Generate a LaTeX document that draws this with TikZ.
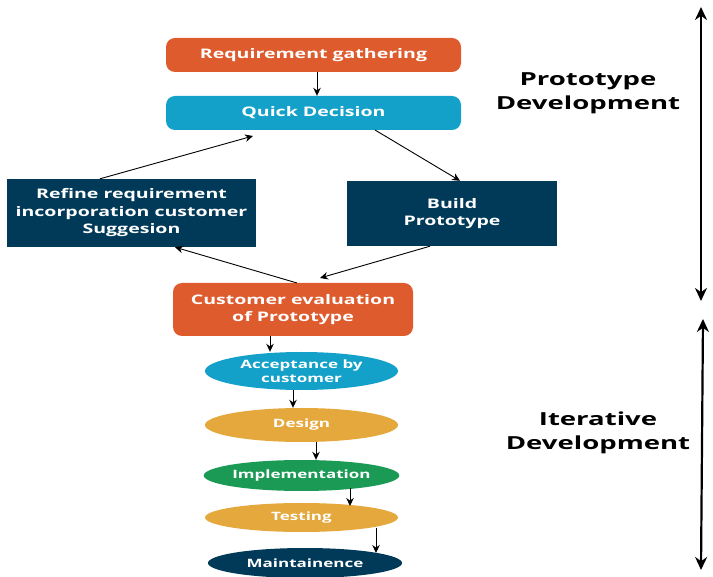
\documentclass[tikz,border=0pt]{standalone}
\usepackage{fontspec}
\setmainfont{Open Sans}
\newfontfamily\wfont[FakeStretch=1.48]{Open Sans}
\newfontfamily\sfont[FakeStretch=1.53]{Open Sans}
\usetikzlibrary{shapes.geometric,arrows.meta}
\definecolor{cOrange}{HTML}{DE5B2E}
\definecolor{cBlue}{HTML}{13A0C9}
\definecolor{cNavy}{HTML}{003A58}
\definecolor{cGold}{HTML}{E5A83C}
\definecolor{cGreen}{HTML}{1B9A56}
\tikzset{
  lbl/.style={text=white,font=\wfont\bfseries\fontsize{13.2}{17.5}\selectfont,align=center,inner sep=0pt},
  rbox/.style={lbl,rounded corners=9pt,minimum width=295pt,minimum height=34pt},
  sbox/.style={lbl,minimum height=66pt},
  ell/.style={lbl,ellipse,minimum width=193pt,font=\wfont\bfseries\fontsize{11.5}{14.5}\selectfont},
  con/.style={-{Stealth[length=8pt,width=7.5pt]},line width=0.9pt},
  big/.style={{Stealth[length=13pt,width=12pt]}-{Stealth[length=13pt,width=12pt]},line width=2.2pt},
  side/.style={font=\sfont\bfseries\fontsize{18}{23.5}\selectfont,align=center}
}
\begin{document}
\begin{tikzpicture}[x=1pt,y=-1pt]
\useasboundingbox (0,0) rectangle (713,577);
\node[rbox,fill=cOrange] (req) at (313.5,55) {Requirement gathering};
\node[rbox,fill=cBlue] (qd) at (313.5,113) {Quick Decision};
\node[sbox,fill=cNavy,minimum width=249pt,minimum height=68pt] (ref) at (131.5,213) {Refine requirement\\incorporation customer\\Suggesion};
\node[sbox,fill=cNavy,minimum width=210pt,minimum height=65pt] (bld) at (452,213.5) {Build\\Prototype};
\node[rbox,fill=cOrange,minimum width=240pt,minimum height=53pt] (ce) at (293,309.5) {Customer evaluation\\of Prototype};
\node[ell,fill=cBlue,minimum height=38pt] (acc) at (301.5,371) {Acceptance by\\customer};
\node[ell,fill=cGold,minimum height=34pt] (des) at (301.5,425) {Design};
\node[ell,fill=cGreen,minimum height=31pt] (imp) at (301.5,475.5) {Implementation};
\node[ell,fill=cGold,minimum height=29pt] (tst) at (301.5,517.5) {Testing};
\node[ell,fill=cNavy,minimum height=30pt,minimum width=194pt] (mnt) at (305,563) {Maintainence};
\draw[con] (req.south -| 317,0) -- (qd.north -| 317,0);
\draw[con] (ref.north -| 100,0) -- (253,136);
\draw[con] (375,130) -- (bld.north -| 460,0);
\draw[con] (bld.south -| 430,0) -- (320,278);
\draw[con] (297,283) -- (ref.south -| 175,0);
\draw[con] (ce.south -| 270,0) -- (acc.north -| 270,0);
\draw[con] (293,390) -- (des.north -| 293,0);
\draw[con] (316,442) -- (imp.north -| 316,0);
\draw[con] (350,488) -- (350,506);
\draw[con] (376,528) -- (376,553);
\node[side] (pd) at (588,93) {Prototype\\Development};
\node[side] (id) at (598,433) {Iterative\\Development};
\coordinate (a1) at (701,7);
\coordinate (a2) at (701,301);
\coordinate (b1) at (703,319);
\coordinate (b2) at (701,570);
\draw[big] (a1) -- (a2);
\draw[big] (b1) -- (b2);
\end{tikzpicture}
\end{document}
